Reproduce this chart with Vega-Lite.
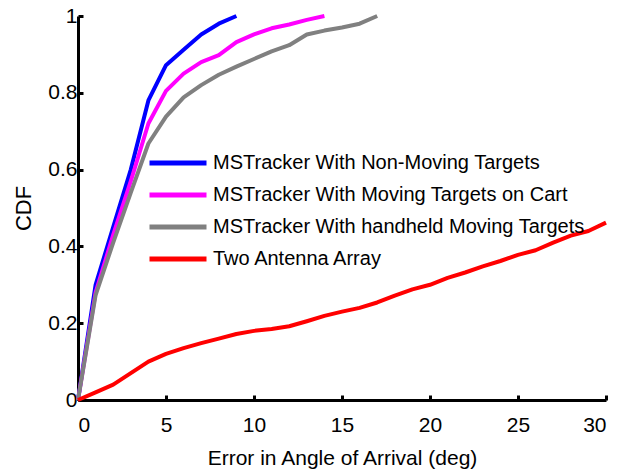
{
  "$schema": "https://vega.github.io/schema/vega-lite/v6.json",
  "width": 528,
  "height": 384,
  "autosize": "none",
  "padding": {"left": 78, "top": 16, "right": 14, "bottom": 76},
  "background": "white",
  "config": {
    "view": {"stroke": null},
    "font": "Liberation Sans",
    "axis": {
      "domainColor": "black",
      "domainWidth": 3,
      "tickColor": "black",
      "tickWidth": 3,
      "tickSize": -5,
      "grid": false,
      "labelFont": "Liberation Sans",
      "labelFontSize": 21,
      "labelColor": "black",
      "titleFont": "Liberation Sans",
      "titleFontSize": 21,
      "titleFontWeight": "normal",
      "titleColor": "black"
    }
  },
  "data": {
    "values": [
      {"s": "MSTracker With Non-Moving Targets", "x": 0, "y": 0},
      {"s": "MSTracker With Non-Moving Targets", "x": 1, "y": 0.30},
      {"s": "MSTracker With Non-Moving Targets", "x": 2, "y": 0.45},
      {"s": "MSTracker With Non-Moving Targets", "x": 3, "y": 0.60},
      {"s": "MSTracker With Non-Moving Targets", "x": 4, "y": 0.78},
      {"s": "MSTracker With Non-Moving Targets", "x": 5, "y": 0.872},
      {"s": "MSTracker With Non-Moving Targets", "x": 6, "y": 0.912},
      {"s": "MSTracker With Non-Moving Targets", "x": 7, "y": 0.952},
      {"s": "MSTracker With Non-Moving Targets", "x": 8, "y": 0.98},
      {"s": "MSTracker With Non-Moving Targets", "x": 9, "y": 1.0},
      {"s": "MSTracker With Moving Targets on Cart", "x": 0, "y": 0},
      {"s": "MSTracker With Moving Targets on Cart", "x": 1, "y": 0.28},
      {"s": "MSTracker With Moving Targets on Cart", "x": 2, "y": 0.43},
      {"s": "MSTracker With Moving Targets on Cart", "x": 3, "y": 0.57},
      {"s": "MSTracker With Moving Targets on Cart", "x": 4, "y": 0.72},
      {"s": "MSTracker With Moving Targets on Cart", "x": 5, "y": 0.805},
      {"s": "MSTracker With Moving Targets on Cart", "x": 6, "y": 0.85},
      {"s": "MSTracker With Moving Targets on Cart", "x": 7, "y": 0.88},
      {"s": "MSTracker With Moving Targets on Cart", "x": 8, "y": 0.898},
      {"s": "MSTracker With Moving Targets on Cart", "x": 9, "y": 0.932},
      {"s": "MSTracker With Moving Targets on Cart", "x": 10, "y": 0.952},
      {"s": "MSTracker With Moving Targets on Cart", "x": 11, "y": 0.968},
      {"s": "MSTracker With Moving Targets on Cart", "x": 12, "y": 0.978},
      {"s": "MSTracker With Moving Targets on Cart", "x": 13, "y": 0.99},
      {"s": "MSTracker With Moving Targets on Cart", "x": 14, "y": 1.0},
      {"s": "MSTracker With handheld Moving Targets", "x": 0, "y": 0},
      {"s": "MSTracker With handheld Moving Targets", "x": 1, "y": 0.273},
      {"s": "MSTracker With handheld Moving Targets", "x": 2, "y": 0.41},
      {"s": "MSTracker With handheld Moving Targets", "x": 3, "y": 0.54},
      {"s": "MSTracker With handheld Moving Targets", "x": 4, "y": 0.668},
      {"s": "MSTracker With handheld Moving Targets", "x": 5, "y": 0.738},
      {"s": "MSTracker With handheld Moving Targets", "x": 6, "y": 0.788},
      {"s": "MSTracker With handheld Moving Targets", "x": 7, "y": 0.82},
      {"s": "MSTracker With handheld Moving Targets", "x": 8, "y": 0.847},
      {"s": "MSTracker With handheld Moving Targets", "x": 9, "y": 0.868},
      {"s": "MSTracker With handheld Moving Targets", "x": 10, "y": 0.888},
      {"s": "MSTracker With handheld Moving Targets", "x": 11, "y": 0.908},
      {"s": "MSTracker With handheld Moving Targets", "x": 12, "y": 0.924},
      {"s": "MSTracker With handheld Moving Targets", "x": 13, "y": 0.952},
      {"s": "MSTracker With handheld Moving Targets", "x": 14, "y": 0.962},
      {"s": "MSTracker With handheld Moving Targets", "x": 15, "y": 0.97},
      {"s": "MSTracker With handheld Moving Targets", "x": 16, "y": 0.98},
      {"s": "MSTracker With handheld Moving Targets", "x": 17, "y": 1.0},
      {"s": "Two Antenna Array", "x": 0, "y": 0},
      {"s": "Two Antenna Array", "x": 1, "y": 0.02},
      {"s": "Two Antenna Array", "x": 2, "y": 0.04},
      {"s": "Two Antenna Array", "x": 3, "y": 0.07},
      {"s": "Two Antenna Array", "x": 4, "y": 0.10},
      {"s": "Two Antenna Array", "x": 5, "y": 0.12},
      {"s": "Two Antenna Array", "x": 6, "y": 0.135},
      {"s": "Two Antenna Array", "x": 7, "y": 0.148},
      {"s": "Two Antenna Array", "x": 8, "y": 0.16},
      {"s": "Two Antenna Array", "x": 9, "y": 0.172},
      {"s": "Two Antenna Array", "x": 10, "y": 0.18},
      {"s": "Two Antenna Array", "x": 11, "y": 0.185},
      {"s": "Two Antenna Array", "x": 12, "y": 0.192},
      {"s": "Two Antenna Array", "x": 13, "y": 0.205},
      {"s": "Two Antenna Array", "x": 14, "y": 0.219},
      {"s": "Two Antenna Array", "x": 15, "y": 0.23},
      {"s": "Two Antenna Array", "x": 16, "y": 0.24},
      {"s": "Two Antenna Array", "x": 17, "y": 0.254},
      {"s": "Two Antenna Array", "x": 18, "y": 0.272},
      {"s": "Two Antenna Array", "x": 19, "y": 0.288},
      {"s": "Two Antenna Array", "x": 20, "y": 0.30},
      {"s": "Two Antenna Array", "x": 21, "y": 0.318},
      {"s": "Two Antenna Array", "x": 22, "y": 0.332},
      {"s": "Two Antenna Array", "x": 23, "y": 0.348},
      {"s": "Two Antenna Array", "x": 24, "y": 0.362},
      {"s": "Two Antenna Array", "x": 25, "y": 0.378},
      {"s": "Two Antenna Array", "x": 26, "y": 0.39},
      {"s": "Two Antenna Array", "x": 27, "y": 0.41},
      {"s": "Two Antenna Array", "x": 28, "y": 0.428},
      {"s": "Two Antenna Array", "x": 29, "y": 0.44},
      {"s": "Two Antenna Array", "x": 30, "y": 0.462}
    ]
  },
  "mark": {"type": "line", "strokeWidth": 4, "strokeJoin": "round", "clip": false},
  "encoding": {
    "x": {
      "field": "x", "type": "quantitative",
      "scale": {"domain": [0, 30], "nice": false},
      "axis": {"values": [0, 5, 10, 15, 20, 25, 30], "labelPadding": 19, "titlePadding": 12, "title": "Error in Angle of Arrival (deg)"}
    },
    "y": {
      "field": "y", "type": "quantitative",
      "scale": {"domain": [0, 1], "nice": false},
      "axis": {"values": [0, 0.2, 0.4, 0.6, 0.8, 1], "format": "~g", "labelPadding": 6, "titlePadding": 12, "title": "CDF", "titleFontSize": 22}
    },
    "color": {
      "field": "s", "type": "nominal",
      "scale": {
        "domain": ["MSTracker With Non-Moving Targets", "MSTracker With Moving Targets on Cart", "MSTracker With handheld Moving Targets", "Two Antenna Array"],
        "range": ["#0000ff", "#ff00ff", "#808080", "#ff0000"]
      },
      "legend": {
        "title": null,
        "orient": "none",
        "legendX": 69,
        "legendY": 133,
        "symbolType": "stroke",
        "symbolSize": 3249,
        "symbolStrokeWidth": 5,
        "labelFont": "Liberation Sans",
        "labelFontSize": 20,
        "labelColor": "black",
        "labelOffset": 4,
        "labelLimit": 500,
        "clipHeight": 28,
        "rowPadding": 4
      }
    }
  }
}
